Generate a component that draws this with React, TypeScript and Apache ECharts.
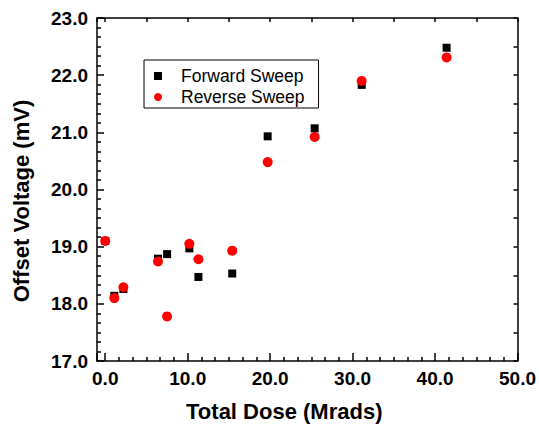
import React, { useEffect, useRef } from "react";
import * as echarts from "echarts";

const doses = [0.0, 1.1, 2.2, 6.4, 7.5, 10.2, 11.3, 15.4, 19.7, 25.4, 31.1, 41.4];
const forwardSweep = [19.1, 18.14, 18.26, 18.79, 18.87, 18.97, 18.47, 18.53, 20.93, 21.07, 21.83, 22.48];
const reverseSweep = [19.1, 18.1, 18.29, 18.74, 17.78, 19.05, 18.78, 18.93, 20.48, 20.92, 21.9, 22.31];
const seriesNames = ["Forward Sweep", "Reverse Sweep"];
const xTitle = "Total Dose (Mrads)";
const yTitle = "Offset Voltage (mV)";

const FONT = "'Liberation Sans', Arial, Helvetica, sans-serif";

export default function App() {
  const ref = useRef<HTMLDivElement>(null);
  useEffect(() => {
    if (!ref.current) return;
    const chart = echarts.init(ref.current, null, { renderer: "svg" });
    const lineStyle = { color: "#000", width: 1.5 };
    const labelStyle = {
      color: "#000",
      fontSize: 19,
      fontWeight: "bold" as const,
      fontFamily: FONT,
    };
    chart.setOption({
      animation: false,
      backgroundColor: "#fff",
      grid: { left: 97, right: 13, top: 18, bottom: 65, containLabel: false },
      legend: {
        orient: "vertical",
        left: 144,
        top: 60,
        padding: [7, 14, 2, 10],
        borderColor: "#000",
        borderWidth: 1,
        itemGap: 3,
        itemWidth: 8,
        itemHeight: 8,
        textStyle: {
          fontSize: 17.5,
          fontFamily: FONT,
          color: "#000",
          padding: [0, 0, 0, 14],
          lineHeight: 16,
        },
        data: [
          { name: seriesNames[0], icon: "rect" },
          { name: seriesNames[1], icon: "circle" },
        ],
      },
      xAxis: [
        {
          type: "value",
          position: "bottom",
          min: -1,
          max: 50,
          splitNumber: 5,
          name: xTitle,
          nameLocation: "middle",
          nameGap: 39,
          nameTextStyle: {
            fontSize: 22,
            fontWeight: "bold",
            fontFamily: FONT,
            color: "#000",
            padding: [0, 46, 0, 0],
          },
          axisLine: { show: true, onZero: false, lineStyle },
          axisTick: { show: true, inside: true, length: 8, lineStyle },
          minorTick: { show: true, splitNumber: 6, length: 4, lineStyle },
          axisLabel: {
            ...labelStyle,
            margin: 8,
            formatter: (v: number) => (v < 0 ? "" : v.toFixed(1)),
          },
          splitLine: { show: false },
        },
        {
          type: "value",
          position: "top",
          min: -1,
          max: 50,
          splitNumber: 10,
          axisLine: { show: true, onZero: false, lineStyle },
          axisTick: { show: true, inside: true, length: 4, lineStyle },
          axisLabel: { show: false },
          splitLine: { show: false },
        },
      ],
      yAxis: [
        {
          type: "value",
          position: "left",
          min: 17,
          max: 23,
          interval: 1,
          name: yTitle,
          nameLocation: "middle",
          nameGap: 65,
          nameTextStyle: {
            fontSize: 22,
            fontWeight: "bold",
            fontFamily: FONT,
            color: "#000",
            padding: [0, 23, 0, 0],
          },
          axisLine: { show: true, onZero: false, lineStyle },
          axisTick: { show: true, inside: true, length: 7, lineStyle },
          minorTick: { show: true, splitNumber: 6, length: 4, lineStyle },
          axisLabel: {
            ...labelStyle,
            margin: 9,
            formatter: (v: number) => v.toFixed(1),
          },
          splitLine: { show: false },
        },
        {
          type: "value",
          position: "right",
          min: 17,
          max: 23,
          interval: 0.5,
          axisLine: { show: true, onZero: false, lineStyle },
          axisTick: { show: true, inside: true, length: 4, lineStyle },
          axisLabel: { show: false },
          splitLine: { show: false },
        },
      ],
      series: [
        {
          name: seriesNames[0],
          type: "scatter",
          symbol: "rect",
          symbolSize: 8,
          itemStyle: { color: "#000", opacity: 1 },
          data: doses.map((d, i) => [d, forwardSweep[i]]),
        },
        {
          name: seriesNames[1],
          type: "scatter",
          symbol: "circle",
          symbolSize: 10,
          itemStyle: { color: "#ff0000", opacity: 1 },
          data: doses.map((d, i) => [d, reverseSweep[i]]),
        },
      ],
    });
    return () => chart.dispose();
  }, []);
  return (
    <div
      ref={ref}
      style={{ position: "fixed", left: 0, top: 0, width: 539, height: 427 }}
    />
  );
}
